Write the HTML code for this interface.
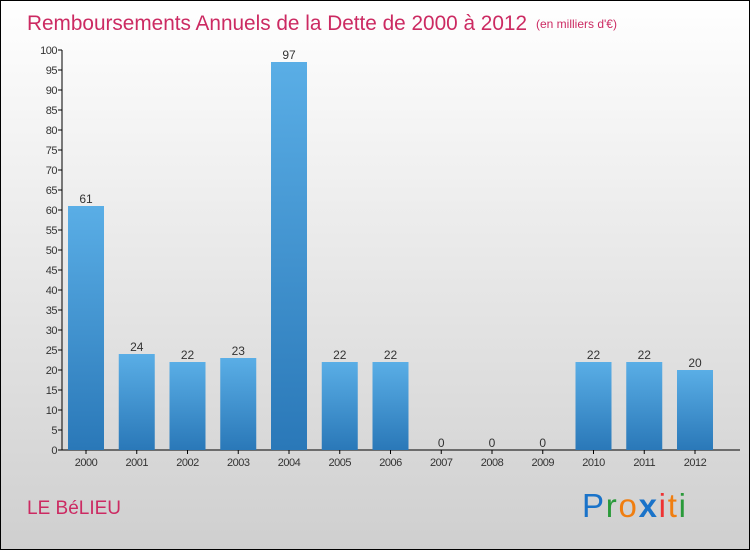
<!DOCTYPE html>
<html><head><meta charset="utf-8"><style>
body{margin:0;width:750px;height:550px;overflow:hidden}
svg{display:block;font-family:"Liberation Sans",sans-serif}
</style></head><body>
<svg id="chart" width="750" height="550">
<defs>
<linearGradient id="bg" x1="0" y1="0" x2="0" y2="1"><stop offset="0" stop-color="#ffffff"/><stop offset="1" stop-color="#cfcfcf"/></linearGradient>
<linearGradient id="bar" x1="0" y1="0" x2="0" y2="1"><stop offset="0" stop-color="#5aaee6"/><stop offset="1" stop-color="#2a78b8"/></linearGradient>
</defs>
<rect x="0.5" y="0.5" width="749" height="549" fill="url(#bg)" stroke="#000"/>
<text x="27" y="30" font-size="21" fill="#cc2a62" textLength="500" lengthAdjust="spacingAndGlyphs">Remboursements Annuels de la Dette de 2000 à 2012</text>
<text x="536" y="28" font-size="12" fill="#cc2a62">(en milliers d'€)</text>
<text x="27" y="514" font-size="19" fill="#cc2a62">LE BéLIEU</text>
<g font-size="33" font-family="'Liberation Sans',sans-serif">
<text x="582" y="517" textLength="104" lengthAdjust="spacing"><tspan fill="#1a73c9">P</tspan><tspan fill="#2a9a3a">r</tspan><tspan fill="#f07e10">o</tspan><tspan fill="#1a73c9" font-weight="bold">x</tspan><tspan fill="#e33">i</tspan><tspan fill="#f07e10">t</tspan><tspan fill="#2a9a3a">i</tspan></text>
</g>
<g id="axes"></g>
<g id="bars"></g>
</svg>
<script>
const categories=["2000","2001","2002","2003","2004","2005","2006","2007","2008","2009","2010","2011","2012"];
const values=[61,24,22,23,97,22,22,0,0,0,22,22,20];
const yTicks=[0,5,10,15,20,25,30,35,40,45,50,55,60,65,70,75,80,85,90,95,100];
const NS="http://www.w3.org/2000/svg";
function y(v){return 450-v*4;}
function xc(i){return 86+i*50.75;}
function mk(t,a,p){const e=document.createElementNS(NS,t);for(const k in a)e.setAttribute(k,a[k]);p.appendChild(e);return e;}
const ax=document.getElementById('axes'),bars=document.getElementById('bars');
let l=mk('line',{x1:62,y1:y(100),x2:62,y2:450,stroke:'#000'},ax);


l=mk('line',{x1:62,y1:450,x2:740,y2:450,stroke:'#000'},ax);


yTicks.forEach(v=>{
 mk('line',{x1:58,y1:y(v),x2:62,y2:y(v),stroke:'#000'},ax);
 const t=mk('text',{x:57,y:y(v)+4,'font-size':11,'text-anchor':'end',fill:'#333','letter-spacing':'-0.5'},ax);
 t.textContent=v;
 
 
});
categories.forEach((c,i)=>{
 const v=values[i];
 const r=mk('rect',{x:xc(i)-18,y:y(v),width:36,height:v*4,fill:'url(#bar)'},bars);
 
 
 mk('line',{x1:xc(i),y1:450,x2:xc(i),y2:454,stroke:'#000'},ax);
 const t=mk('text',{x:xc(i),y:466,'font-size':11,'text-anchor':'middle',fill:'#333','letter-spacing':'-0.5'},ax);
 t.textContent=c;
 
 
 const lb=mk('text',{x:xc(i),y:y(v)-3,'font-size':12,'text-anchor':'middle',fill:'#333'},bars);
 lb.textContent=v;
 
 
});
</script>
</body></html>
